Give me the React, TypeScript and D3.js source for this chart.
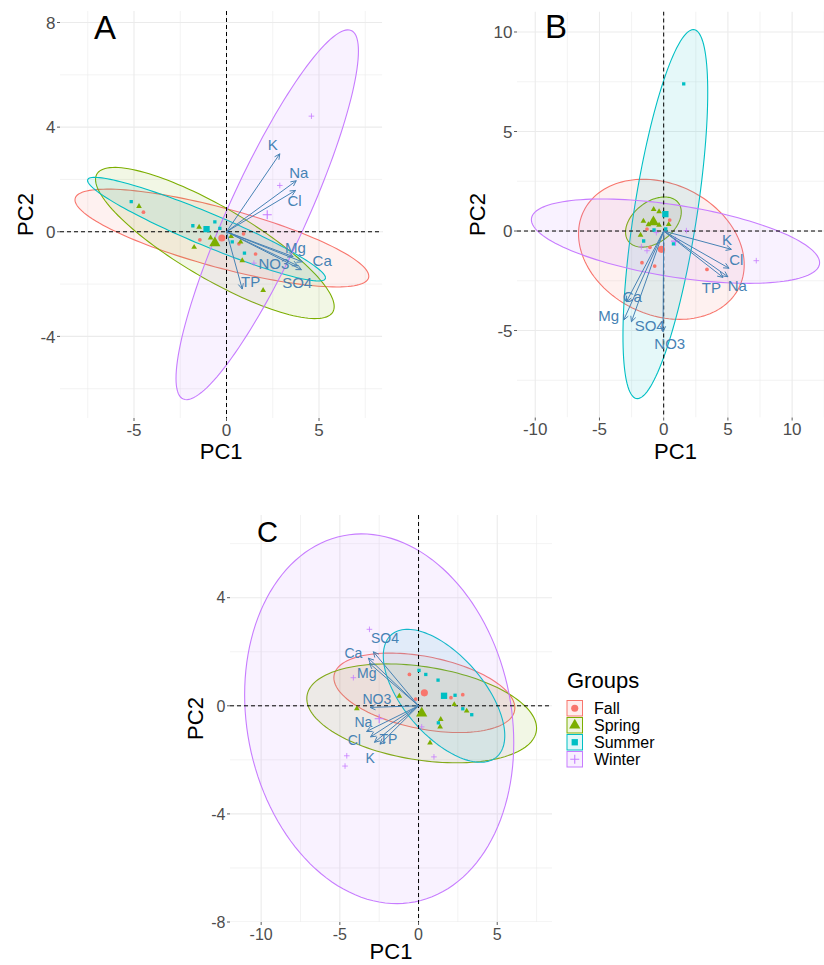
import React from "react";
import * as d3 from "d3";

const groups = ["Fall", "Spring", "Summer", "Winter"];
const groupColors = ["#F8766D", "#7CAE00", "#00BFC4", "#C77CFF"];

// ---- panel A : [group, PC1, PC2]
const scoresA: [string, number, number][] = [
  ["Fall", -4.49, 0.75], ["Fall", -1.44, -0.31], ["Fall", 0.92, -0.08], ["Fall", 0.67, -0.46], ["Fall", 1.57, -0.85],
  ["Spring", -4.73, 0.97], ["Spring", -1.48, 0.18], ["Spring", -0.86, -0.23], ["Spring", -1.75, -0.59],
  ["Spring", 0.25, -0.18], ["Spring", 0.76, -0.39], ["Spring", 0.85, -1.1], ["Spring", 1.98, -2.24],
  ["Summer", -5.15, 1.15], ["Summer", -1.82, 0.23], ["Summer", -0.63, 0.38], ["Summer", -0.36, 0.13],
  ["Summer", 0.31, -0.39], ["Summer", 0.97, -0.82],
  ["Winter", 4.59, 4.42], ["Winter", 2.88, 1.77], ["Winter", 1.48, -1.2],
];
// group means (ellipse centres), in group order
const meansA: [number, number][] = [[-0.25, -0.24], [-0.63, -0.43], [-1.08, 0.1], [2.2, 0.65]];
// ellipse spread: [sd PC1, sd PC2, correlation]
const spreadA: [number, number, number][] = [[7.94, 1.87, -0.78], [6.45, 2.89, -0.84], [6.43, 1.98, -0.94], [4.93, 7.07, 0.885]];
// loadings: [variable, PC1, PC2, label PC1, label PC2]
const loadingsA: [string, number, number, number, number][] = [
  ["K", 2.88, 2.98, 2.5, 3.33], ["Na", 3.77, 1.95, 3.91, 2.28], ["Cl", 3.73, 1.58, 3.68, 1.19],
  ["Mg", 3.6, -0.95, 3.73, -0.59], ["Ca", 4.1, -1.15, 5.17, -1.11], ["NO3", 3.85, -1.3, 2.56, -1.2],
  ["SO4", 4.05, -1.45, 3.82, -1.96], ["TP", 0.85, -2.19, 1.3, -1.91],
];

// ---- panel B
const scoresB: [string, number, number][] = [
  ["Fall", -1.69, -1.59], ["Fall", -0.7, -1.76], ["Fall", 3.37, -1.93], ["Fall", 0.47, 0.55], ["Fall", -1.3, 0.1], ["Fall", -1.07, -0.82],
  ["Spring", -0.78, 1.09], ["Spring", -0.36, 0.98], ["Spring", -1.58, 0.5], ["Spring", -0.36, 0.3],
  ["Spring", -1.19, 0.32], ["Spring", 0.39, 0.33], ["Spring", -1.8, -0.2],
  ["Summer", 1.56, 7.39], ["Summer", -0.75, 0.05], ["Summer", -1.56, -0.5], ["Summer", 0.76, -0.65], ["Summer", 0.16, 0.1],
  ["Winter", 7.21, -1.49], ["Winter", 1.77, 0.02], ["Winter", -1.74, -0.79], ["Winter", -1.3, -0.99], ["Winter", -0.57, -0.08],
];
const meansB: [number, number][] = [[-0.18, -0.92], [-0.8, 0.45], [0.13, 0.85], [0.92, -0.51]];
const spreadB: [number, number, number][] = [[6.45, 3.52, -0.22], [2.17, 1.26, 0.4], [3.3, 9.27, 0.66], [11.22, 2.12, -0.51]];
const loadingsB: [string, number, number, number, number][] = [
  ["K", 5.27, -0.92, 4.93, -0.42], ["Cl", 5.09, -1.87, 5.66, -1.46], ["Na", 5.0, -2.3, 5.73, -2.75],
  ["TP", 4.62, -2.33, 3.71, -2.85], ["Ca", -2.9, -3.55, -2.44, -3.3], ["Mg", -3.11, -4.47, -4.28, -4.26],
  ["SO4", -2.51, -4.56, -1.09, -4.74], ["NO3", -0.05, -5.06, 0.47, -5.64],
];

// ---- panel C
const scoresC: [string, number, number][] = [
  ["Fall", -0.58, 1.16], ["Fall", 2.06, 0.3], ["Fall", 2.81, 0.41], ["Fall", -0.18, 0.25],
  ["Spring", -1.22, 0.36], ["Spring", -3.92, -0.1], ["Spring", 2.27, 0.05], ["Spring", 3.06, -0.19],
  ["Spring", 1.41, -0.5], ["Spring", 1.37, -0.78], ["Spring", 0.73, -1.37],
  ["Summer", 0.46, 1.16], ["Summer", 1.24, 0.95], ["Summer", 2.32, 0.39], ["Summer", 2.81, -0.11],
  ["Summer", 3.38, -0.33], ["Summer", 1.26, -0.63], ["Summer", 0.03, 1.31],
  ["Winter", -3.12, 2.83], ["Winter", -4.14, 1.04], ["Winter", -4.56, -1.85], ["Winter", -4.67, -2.23],
  ["Winter", 0.98, -1.89], ["Winter", 0.2, -0.78],
];
const meansC: [number, number][] = [[0.37, 0.48], [0.2, -0.28], [1.62, 0.37], [-2.5, -0.48]];
const spreadC: [number, number, number][] = [[5.75, 1.47, -0.38], [7.3, 1.83, -0.3], [3.86, 2.46, -0.6], [8.55, 6.84, -0.13]];
const loadingsC: [string, number, number, number, number][] = [
  ["SO4", -2.87, 2.0, -2.13, 2.5], ["Ca", -3.19, 1.76, -4.14, 1.94], ["Mg", -3.12, 1.57, -3.29, 1.2],
  ["NO3", -3.08, -0.06, -2.65, 0.25], ["Na", -3.3, -0.95, -3.5, -0.59], ["Cl", -3.05, -1.15, -4.08, -1.25],
  ["TP", -2.8, -1.35, -1.92, -1.21], ["K", -2.45, -1.42, -3.08, -1.93],
];

const FONT = "'Liberation Sans', Arial, Helvetica, sans-serif";
const arrowColor = "#4682B4";

const panels = [
  {
    id: "A", scores: scoresA, means: meansA, spread: spreadA, loadings: loadingsA,
    xDomain: [-9.0, 8.42], yDomain: [-7.12, 8.44], xTicks: [-5, 0, 5], yTicks: [-4, 0, 4, 8],
    left: 60, right: 382.3, top: 11, bottom: 418,
    letter: { x: 94, y: 39, size: 33 }, yTitleX: 33, tick: 17, label: 15, titleY: 458.5,
  },
  {
    id: "B", scores: scoresB, means: meansB, spread: spreadB, loadings: loadingsB,
    xDomain: [-11.42, 13.26], yDomain: [-9.37, 11.03], xTicks: [-10, -5, 0, 5, 10], yTicks: [-5, 0, 5, 10],
    left: 517, right: 834, top: 11.5, bottom: 417.5,
    letter: { x: 545, y: 38, size: 33 }, yTitleX: 485, tick: 17, label: 15, titleY: 458.5,
  },
  {
    id: "C", scores: scoresC, means: meansC, spread: spreadC, loadings: loadingsC,
    xDomain: [-11.98, 8.48], yDomain: [-8.0, 7.06], xTicks: [-10, -5, 0, 5], yTicks: [-8, -4, 0, 4],
    left: 230, right: 552, top: 515, bottom: 922,
    letter: { x: 257, y: 542, size: 29 }, yTitleX: 203, tick: 16, label: 14, titleY: 959,
  },
];

function ellipse(mean: [number, number], spread: [number, number, number], n = 140) {
  const [cx, cy] = mean;
  const [hx, hy, rho] = spread;
  return d3.range(n + 1).map((i) => {
    const t = (2 * Math.PI * i) / n;
    return [cx + hx * Math.cos(t), cy + hy * (rho * Math.cos(t) + Math.sqrt(1 - rho * rho) * Math.sin(t))] as [number, number];
  });
}

function minors(ticks: number[], domain: number[]) {
  const step = ticks[1] - ticks[0];
  const out: number[] = [];
  for (let v = ticks[0] - step / 2; v <= domain[1]; v += step) if (v >= domain[0]) out.push(v);
  return out;
}

function Marker({ g, px, py, big }: { g: string; px: number; py: number; big?: boolean }) {
  const i = groups.indexOf(g);
  const c = groupColors[i];
  if (g === "Winter") {
    const r = big ? 4.5 : 2.8;
    return <path d={`M${px - r},${py}H${px + r}M${px},${py - r}V${py + r}`} stroke={c} strokeWidth={big ? 1.1 : 0.8} fill="none" />;
  }
  const type = [d3.symbolCircle, d3.symbolTriangle, d3.symbolSquare][i];
  const size = big ? [40, 55, 40][i] : [11, 14, 11][i];
  return <path transform={`translate(${px},${py})`} d={d3.symbol(type, size)() as string} fill={c} />;
}

function Panel({ p }: { p: (typeof panels)[number] }) {
  const x = d3.scaleLinear().domain(p.xDomain).range([p.left, p.right]);
  const y = d3.scaleLinear().domain(p.yDomain).range([p.bottom, p.top]);
  const line = d3.line<[number, number]>().x((d) => x(d[0])).y((d) => y(d[1]));
  const clip = `clip${p.id}`;
  const x0 = x(0), y0 = y(0);
  return (
    <g>
      <defs>
        <clipPath id={clip}>
          <rect x={p.left} y={p.top} width={p.right - p.left} height={p.bottom - p.top} />
        </clipPath>
      </defs>
      <g clipPath={`url(#${clip})`}>
        {minors(p.xTicks, p.xDomain).map((v) => (
          <line key={"mx" + v} x1={x(v)} x2={x(v)} y1={p.top} y2={p.bottom} stroke="#EBEBEB" strokeWidth={0.6} />
        ))}
        {minors(p.yTicks, p.yDomain).map((v) => (
          <line key={"my" + v} y1={y(v)} y2={y(v)} x1={p.left} x2={p.right} stroke="#EBEBEB" strokeWidth={0.6} />
        ))}
        {p.xTicks.map((v) => (
          <line key={"gx" + v} x1={x(v)} x2={x(v)} y1={p.top} y2={p.bottom} stroke="#EBEBEB" strokeWidth={1.1} />
        ))}
        {p.yTicks.map((v) => (
          <line key={"gy" + v} y1={y(v)} y2={y(v)} x1={p.left} x2={p.right} stroke="#EBEBEB" strokeWidth={1.1} />
        ))}
        {p.means.map((m, i) => (
          <path key={"e" + i} d={line(ellipse(m, p.spread[i])) as string} fill={groupColors[i]} fillOpacity={0.1}
            stroke={groupColors[i]} strokeWidth={1.1} />
        ))}
        <line x1={p.left} x2={p.right} y1={y0} y2={y0} stroke="#000" strokeWidth={1} strokeDasharray="4,3" />
        <line x1={x0} x2={x0} y1={p.top} y2={p.bottom} stroke="#000" strokeWidth={1} strokeDasharray="4,3" />
        {p.scores.map((s, i) => (
          <Marker key={"s" + i} g={s[0]} px={x(s[1])} py={y(s[2])} />
        ))}
        {p.means.map((m, i) => (
          <Marker key={"m" + i} g={groups[i]} px={x(m[0])} py={y(m[1])} big />
        ))}
        {p.loadings.map(([name, a, b]) => {
          const tx = x(a), ty = y(b);
          const ang = Math.atan2(ty - y0, tx - x0);
          const hl = 6, hw = Math.PI / 7;
          const h1 = [tx - hl * Math.cos(ang - hw), ty - hl * Math.sin(ang - hw)];
          const h2 = [tx - hl * Math.cos(ang + hw), ty - hl * Math.sin(ang + hw)];
          return (
            <g key={"a" + name} stroke={arrowColor} strokeWidth={1} fill="none">
              <line x1={x0} y1={y0} x2={tx} y2={ty} />
              <path d={`M${h1[0]},${h1[1]}L${tx},${ty}L${h2[0]},${h2[1]}`} />
            </g>
          );
        })}
        {p.loadings.map(([name, , , lx, ly]) => (
          <text key={"t" + name} x={x(lx)} y={y(ly)} dy="0.36em" textAnchor="middle" fill={arrowColor}
            fontSize={p.label} fontFamily={FONT}>{name}</text>
        ))}
      </g>
      {/* axes */}
      {p.xTicks.map((v) => (
        <g key={"xt" + v}>
          <line x1={x(v)} x2={x(v)} y1={p.bottom} y2={p.bottom + 3} stroke="#333" strokeWidth={0.8} />
          <text x={x(v)} y={p.bottom + 17.5} textAnchor="middle" fontSize={p.tick} fill="#4D4D4D" fontFamily={FONT}>{v}</text>
        </g>
      ))}
      {p.yTicks.map((v) => (
        <g key={"yt" + v}>
          <line x1={p.left - 3} x2={p.left} y1={y(v)} y2={y(v)} stroke="#333" strokeWidth={0.8} />
          <text x={p.left - 4.5} y={y(v)} dy="0.36em" textAnchor="end" fontSize={p.tick} fill="#4D4D4D" fontFamily={FONT}>{v}</text>
        </g>
      ))}
      <text x={(p.left + p.right) / 2} y={p.titleY} textAnchor="middle" fontSize={22} fontFamily={FONT}>PC1</text>
      <text transform={`translate(${p.yTitleX},${(p.top + p.bottom) / 2}) rotate(-90)`} textAnchor="middle" fontSize={22}
        fontFamily={FONT}>PC2</text>
      <text x={p.letter.x} y={p.letter.y} fontSize={p.letter.size} fontFamily={FONT}>{p.id}</text>
    </g>
  );
}

function Legend() {
  const x = 567, top = 700.5, step = 17, key = 15.5;
  return (
    <g fontFamily={FONT}>
      <text x={x} y={688} fontSize={22}>Groups</text>
      {groups.map((g, i) => {
        const yy = top + i * step;
        return (
          <g key={g}>
            <rect x={x} y={yy} width={key} height={key} fill={groupColors[i]} fillOpacity={0.12} stroke={groupColors[i]} strokeWidth={1} />
            <Marker g={g} px={x + key / 2} py={yy + key / 2} big />
            <text x={594} y={yy + key / 2 + 5.5} fontSize={16}>{g}</text>
          </g>
        );
      })}
    </g>
  );
}

export default function App() {
  return (
    <svg width={824} height={965} style={{ position: "absolute", left: 0, top: 0, background: "#fff" }}>
      <rect width={824} height={965} fill="#fff" />
      {panels.map((p) => (
        <Panel key={p.id} p={p} />
      ))}
      <Legend />
    </svg>
  );
}
